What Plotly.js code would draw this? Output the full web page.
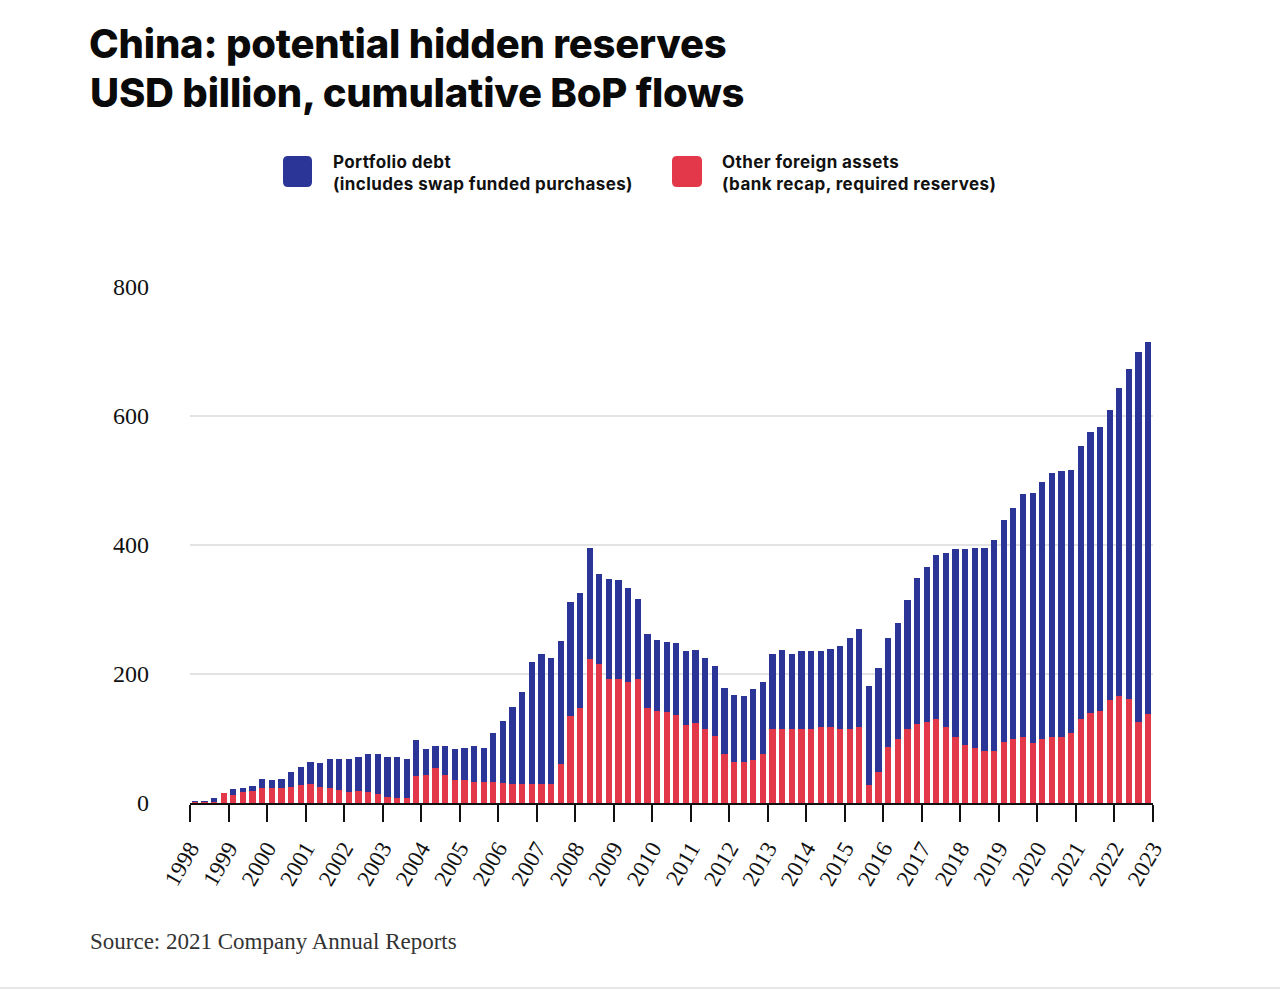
<!DOCTYPE html>
<html><head><meta charset="utf-8">
<script src="https://cdn.plot.ly/plotly-3.0.1.min.js"></script>
<style>
html,body{margin:0;padding:0;background:#fff;}
#chart{width:1280px;height:991px;}
.gtitle{letter-spacing:-0.2px;}
.annotation[data-index="0"] text{letter-spacing:-0.2px;}
.annotation[data-index="1"] text, .annotation[data-index="2"] text{letter-spacing:0.4px;}
</style></head><body><div id="chart"></div><script>
// ---- data ----
var years = ['1998','1999','2000','2001','2002','2003','2004','2005','2006','2007','2008','2009','2010',
             '2011','2012','2013','2014','2015','2016','2017','2018','2019','2020','2021','2022','2023'];
var quarterNames = ['Q1','Q2','Q3','Q4'];
// Other foreign assets (bank recap, required reserves), USD bn, quarterly 1998Q1..2022Q4
var otherAssets = [
  2,2,1,15,   13,17,18,23,   23,24,25,28,   29,25,24,20,   17,19,17,14,
  9,8,7,42,   44,54,44,36,   35,32,32,32,   31,29,29,29,   29,29,60,135,
  148,223,216,193, 193,188,193,147, 143,141,136,121, 124,115,104,76, 64,64,67,76,
  115,115,115,115, 115,118,118,115, 115,118,28,48, 87,99,115,123, 125,131,118,103,
  90,85,80,81, 94,99,102,93, 99,103,103,109, 131,140,143,159, 166,161,125,138
];
// Portfolio debt (includes swap funded purchases), USD bn
var portfolioDebt = [
  1,1,6,0,    8,6,9,14,     12,13,23,28,   35,37,44,48,   51,53,59,62,
  63,64,62,56, 40,35,45,47, 51,57,54,76,   96,120,143,189, 202,196,191,177,
  177,173,139,154, 152,145,124,115, 110,109,112,114, 113,110,109,103, 104,102,109,112,
  116,122,116,120, 120,117,121,129, 141,152,154,161, 169,180,199,226, 241,254,270,291,
  304,311,316,327, 344,358,377,388, 399,409,411,407, 423,435,440,450, 478,512,574,577
];
var yTicks = [0,200,400,600,800];

// quarter positions on a numeric year axis (mid-quarter)
var xPos = [], labels = [];
for (var i = 0; i < otherAssets.length; i++) {
  var yr = parseInt(years[0]) + Math.floor(i/4), q = i % 4;
  xPos.push(yr + (q + 0.5)/4);
  labels.push(yr + ' ' + quarterNames[q]);
}

var BLUE = '#2b3597', RED = '#e2384a';
var L = 190, R = 1153, T = 287, B = 803;
function px(x){ return (x - L)/(R - L); }
function py(y){ return (B - y)/(B - T); }
function rrect(x0, y0, x1, y1, r){
  var a = px(x0), b = px(x1), top = py(y0), bot = py(y1);
  var rx = r/(R-L), ry = r/(B-T);
  return 'M'+(a+rx)+','+bot+' L'+(b-rx)+','+bot+' Q'+b+','+bot+' '+b+','+(bot+ry)+
         ' L'+b+','+(top-ry)+' Q'+b+','+top+' '+(b-rx)+','+top+' L'+(a+rx)+','+top+
         ' Q'+a+','+top+' '+a+','+(top-ry)+' L'+a+','+(bot+ry)+' Q'+a+','+bot+' '+(a+rx)+','+bot+' Z';
}

var traces = [
  {type:'bar', name:'Other foreign assets', x:xPos, y:otherAssets, text:labels,
   marker:{color:RED}, hovertemplate:'%{text}<br>%{y}<extra>Other foreign assets</extra>', textposition:'none'},
  {type:'bar', name:'Portfolio debt', x:xPos, y:portfolioDebt, text:labels,
   marker:{color:BLUE}, hovertemplate:'%{text}<br>%{y}<extra>Portfolio debt</extra>', textposition:'none'}
];

var serif = 'Liberation Serif, DejaVu Serif, serif';
var sans = 'Inter, Roboto, Liberation Sans, sans-serif';

var layout = {
  width:1280, height:991,
  paper_bgcolor:'#fff', plot_bgcolor:'#fff',
  margin:{l:L, r:1280-R, t:T, b:991-B},
  barmode:'stack', bargap:0.35, showlegend:false,
  title:{text:'China: potential hidden reserves', xref:'container', yref:'container',
         x:89/1280, xanchor:'left', y:1-44/991, yanchor:'middle',
         font:{family:sans, size:40, color:'#0a0a0a', weight:800}},
  xaxis:{type:'linear', range:[parseInt(years[0]), parseInt(years[years.length-1])],
         tickvals:years.map(Number), ticktext:years, tickangle:-60,
         tickfont:{family:serif, size:23, color:'#111'},
         ticks:'outside', ticklen:17, tickwidth:2, tickcolor:'#111', ticklabelstandoff:4,
         showline:true, linecolor:'#111', linewidth:2, showgrid:false, zeroline:false, fixedrange:true},
  yaxis:{range:[0,800], tickvals:yTicks, ticktext:yTicks.map(String),
         tickfont:{family:serif, size:24, color:'#111'},
         showgrid:true, gridcolor:'#e3e3e3', gridwidth:1.5, zeroline:false, showline:false,
         ticks:'', ticklabelstandoff:40, fixedrange:true},
  shapes:[
    {type:'path', xref:'paper', yref:'paper', path:rrect(283,156,312,187,5), fillcolor:BLUE, line:{width:0}},
    {type:'path', xref:'paper', yref:'paper', path:rrect(672,156,702,187,5), fillcolor:RED, line:{width:0}},
    {type:'line', xref:'paper', yref:'paper', x0:px(0), x1:px(1280), y0:py(988), y1:py(988),
     line:{color:'#e6e6e6', width:2}}
  ],
  annotations:[
    {text:'USD billion, cumulative BoP flows', xref:'paper', yref:'paper', x:px(88), y:py(92),
     xanchor:'left', yanchor:'middle', showarrow:false, align:'left',
     font:{family:sans, size:40, color:'#0a0a0a', weight:800}},
    {text:'Portfolio debt<br>(includes swap funded purchases)', xref:'paper', yref:'paper',
     x:px(331), y:py(173), xanchor:'left', yanchor:'middle', showarrow:false, align:'left',
     font:{family:sans, size:17, color:'#111', weight:700}},
    {text:'Other foreign assets<br>(bank recap, required reserves)', xref:'paper', yref:'paper',
     x:px(720), y:py(173), xanchor:'left', yanchor:'middle', showarrow:false, align:'left',
     font:{family:sans, size:17, color:'#111', weight:700}},
    {text:'Source: 2021 Company Annual Reports', xref:'paper', yref:'paper',
     x:px(88), y:py(941), xanchor:'left', yanchor:'middle', showarrow:false, align:'left',
     font:{family:serif, size:23, color:'#333'}}
  ]
};

Plotly.newPlot('chart', traces, layout, {displayModeBar:false});
</script></body></html>
